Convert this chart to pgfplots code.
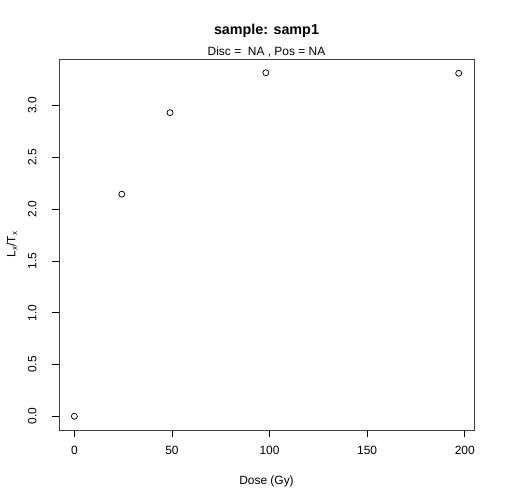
\documentclass[border=0pt]{standalone}
\usepackage{fontspec}
\setmainfont{Liberation Sans}
\usepackage{pgfplots}
\pgfplotsset{compat=1.18}

\begin{document}
\begin{tikzpicture}[x=1bp,y=1bp]
\path (0,0) rectangle (504,504);
\begin{axis}[
    at={(59bp,74bp)},
    anchor=south west,
    scale only axis,
    width=415bp,
    height=371bp,
    xmin=-7.88, xmax=204.76,
    ymin=-0.1327, ymax=3.4507,
    xtick={0,50,100,150,200},
    ytick={0,0.5,1,1.5,2,2.5,3},
    xtick pos=bottom,
    ytick pos=left,
    /pgf/number format/assume math mode=true,
    /pgf/number format/.cd, fixed, fixed zerofill, precision=1, /pgfplots/.cd,
    xticklabel={\pgfmathprintnumber[fixed,precision=0]{\tick}},
    tick align=outside,
    major tick length=7bp,
    tick style={black, line width=0.75bp},
    axis line style={black!75, line width=0.75bp},
    ticklabel style={font=\fontsize{12}{14}\selectfont},
    xticklabel style={anchor=north, yshift=-6bp},
    yticklabel style={xshift=-12bp, rotate=90, anchor=south},
    xlabel={Dose (Gy)},
    xlabel style={at={(axis description cs:0.5,-0.1375)}, anchor=center,
      font=\fontsize{12}{14}\selectfont},
    ylabel={L\textsubscript{x}/T\textsubscript{x}},
    ylabel style={at={(axis description cs:-0.1133,0.5)}, anchor=center,
      font=\fontsize{12}{14}\selectfont},
    clip=false,
  ]
  \addplot[only marks, mark=o, mark size=3bp, mark options={line width=0.75bp, black}] coordinates {
    (0,     0.000)
    (24.3,  2.145)
    (49.0,  2.932)
    (98.1,  3.318)
    (196.9, 3.313)
  };
  % title and subtitle
  \node[font=\fontsize{14.4}{16}\selectfont\bfseries, anchor=center]
    at (axis description cs:0.5,1.0755) {sample: samp1};
  \node[font=\fontsize{12}{14}\selectfont, anchor=center]
    at (axis description cs:0.5,1.0189) {Disc =\ \ NA , Pos = NA};
\end{axis}
\end{tikzpicture}
\end{document}
